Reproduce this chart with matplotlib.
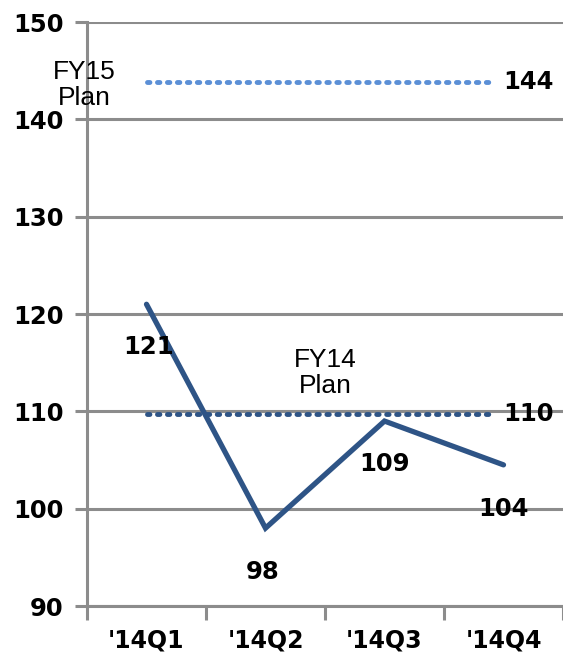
import matplotlib.pyplot as plt

quarters = ["'14Q1", "'14Q2", "'14Q3", "'14Q4"]
actual = [121, 98, 109, 104.5]
actual_labels = ["121", "98", "109", "104"]
fy14_plan = 109.7
fy15_plan = 143.8

grid_gray = '#8c8c8c'
dark_blue = '#2e5486'
light_blue = '#5b8fd6'

fig = plt.figure(figsize=(5.63, 6.62), dpi=100)
ax = fig.add_axes([87 / 563, (662 - 606) / 662, 476 / 563, 584 / 662])

x = list(range(len(quarters)))
ax.set_xlim(-0.5, 3.5 - 4 / 120)
ax.set_ylim(90, 150)

ax.set_yticks(range(90, 151, 10))
ax.yaxis.grid(True, color=grid_gray, linewidth=2.2)
ax.set_axisbelow(True)

# plan lines
ax.plot([0, 2.92], [fy15_plan, fy15_plan], color=light_blue, linewidth=3.5,
        linestyle=(0, (0.5, 1.55)), dash_capstyle='round')
ax.plot([0, 2.92], [fy14_plan, fy14_plan], color=dark_blue, linewidth=3.5,
        linestyle=(0, (0.5, 1.55)), dash_capstyle='round')

ax.plot(x, actual, color=dark_blue, linewidth=3.8, solid_capstyle='round',
        solid_joinstyle='miter')

# labels
fs = 17.5
offsets = [(0.02, -4.4), (-0.02, -4.5), (0.0, -4.4), (0.0, -4.5)]
for xi, yi, lab, (dx, dy) in zip(x, actual, actual_labels, offsets):
    ax.text(xi + dx, yi + dy, lab, ha='center', va='center',
            fontsize=fs, fontweight='bold', color='black')
ax.text(3.21, fy15_plan, "144", ha='center', va='center', fontsize=fs,
        fontweight='bold')
ax.text(3.21, fy14_plan, "110", ha='center', va='center', fontsize=fs,
        fontweight='bold')
ax.text(-0.52, 143.5, "FY15\nPlan", ha='center', va='center', fontsize=19,
        family='Liberation Sans', linespacing=1.1)
ax.text(1.5, 113.9, "FY14\nPlan", ha='center', va='center', fontsize=19,
        family='Liberation Sans', linespacing=1.1)

ax.set_xticks(x)
ax.set_xticklabels(quarters, fontsize=17, fontweight='bold')
ax.set_xticks([-0.5, 0.5, 1.5, 2.5, 3.5], minor=True)
ax.tick_params(axis='x', which='major', length=0, pad=16)
ax.tick_params(axis='x', which='minor', length=10, width=2.2, color=grid_gray)
ax.tick_params(axis='y', length=9, width=2.2, color=grid_gray, pad=8,
               labelsize=fs)
for t in ax.get_yticklabels():
    t.set_fontweight('bold')

for s in ['top', 'right']:
    ax.spines[s].set_visible(False)
for s in ['left', 'bottom']:
    ax.spines[s].set_color(grid_gray)
    ax.spines[s].set_linewidth(2.2)

fig.savefig('out.png', dpi=100)
